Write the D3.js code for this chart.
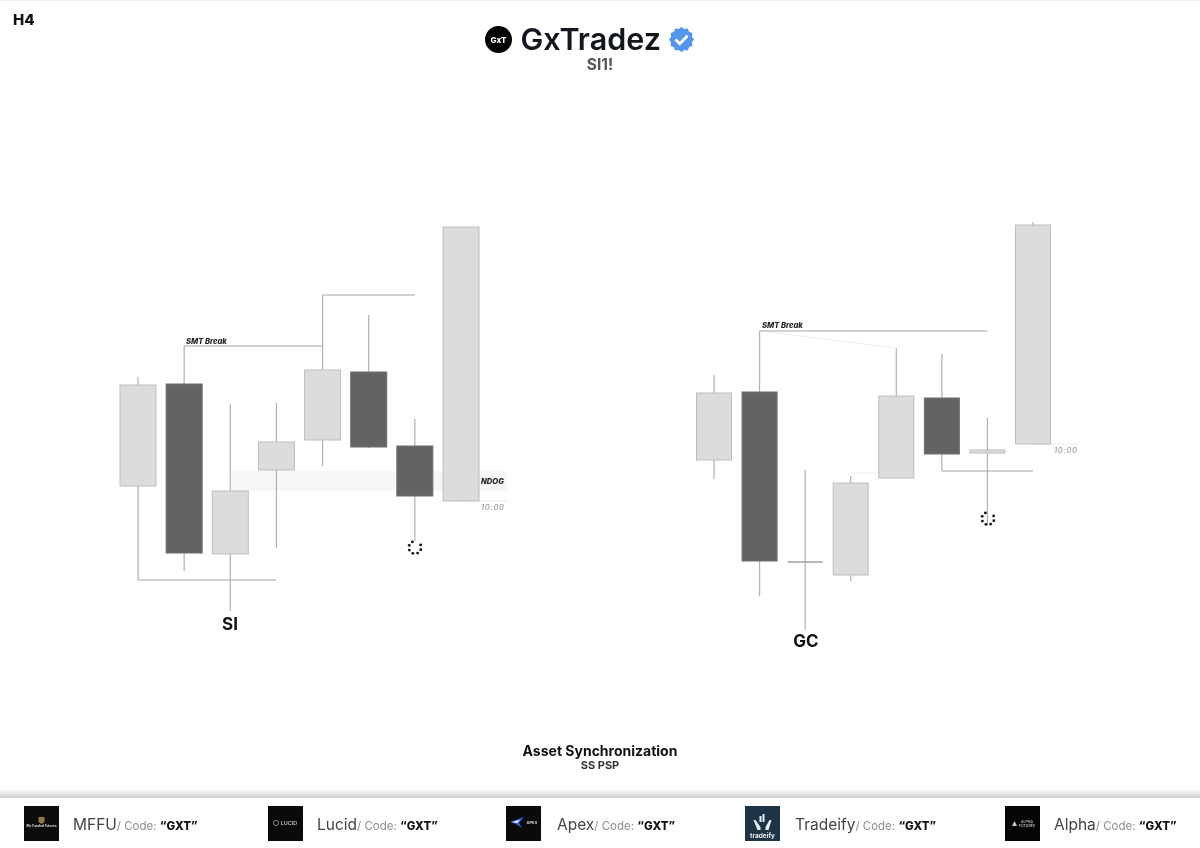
<!DOCTYPE html>
<html><head><meta charset="utf-8">
<script src="https://cdn.jsdelivr.net/npm/d3@7"></script>
<style>html,body{margin:0;padding:0;background:#fff}svg{display:block;font-family:Inter,sans-serif;filter:blur(0.3px)}</style>
</head><body><svg id="c" width="1200" height="848"></svg>
<script>
// Candle values, in chart price units, oldest to newest
const candleIndex = [0,1,2,3,4,5,6,7];
const siOpen  = [362,464,294,378,408,476,402,347];
const siHigh  = [471,502,444,445,553,533,429,621];
const siLow   = [268,277,237,300,382,400,307,347];
const siClose = [463,295,357,406,478,401,352,621];
const gcOpen  = [388,456,286,273,370,450,395,404];
const gcHigh  = [473,517,378,372,500,494,430,626];
const gcLow   = [369,252,218,267,370,377,322,404];
const gcClose = [455,287,286,365,452,394,398,623];
// Level lines: [from candle, to candle, price]
const siLevels = [[1,4,502],[4,6,553],[0,3,268],[7,8,347]];
const gcLevels = [[1,6,517],[5,7,377],[7,8,404]];
// Band and faint lines
const siBand = [2,8,357,377];
const gcFaint = [[1,517,4,500],[3,375,4,375]];
// Texts
const panelNames = ["SI","GC"];
const sponsors = ["MFFU","Lucid","Apex","Tradeify","Alpha"];
const sponsorCode = "“GXT”";

const svg = d3.select("#c");
const W = 1200, H = 848;
const y = d3.scaleLinear().domain([0,H]).range([H,0]);
const xSI = d3.scaleLinear().domain([0,7]).range([138,461]);
const xGC = d3.scaleLinear().domain([0,7]).range([714,1033]);
const wick = "#b0b0b0", lightFill = "#dcdcdc", lightEdge = "#bdbdbd", dark = "#636363";

const defs = svg.append("defs");
const g = defs.append("linearGradient").attr("id","shade").attr("x1",0).attr("x2",0).attr("y1",0).attr("y2",1);
g.append("stop").attr("offset",0).attr("stop-color","#fff");
g.append("stop").attr("offset",1).attr("stop-color","#cfcfcf");

svg.append("rect").attr("width",W).attr("height",H).attr("fill","#fff");
svg.append("rect").attr("width",W).attr("height",1).attr("fill","#efefef");

function text(s,x,yy,size,weight,fill,anchor,style){
  return svg.append("text").attr("x",x).attr("y",yy).attr("font-size",size).attr("font-weight",weight)
    .attr("fill",fill).attr("text-anchor",anchor||"start").attr("font-style",style||"normal").text(s);
}

function panel(x,open,high,low,close,bw){
  const root = svg.append("g");
  const rows = candleIndex.map(i=>({i,o:open[i],h:high[i],l:low[i],c:close[i]}));
  root.selectAll("line.w").data(rows).join("line").attr("class","w")
    .attr("x1",d=>x(d.i)).attr("x2",d=>x(d.i)).attr("y1",d=>y(d.h)).attr("y2",d=>y(d.l))
    .attr("stroke",wick).attr("stroke-width",1.2);
  root.selectAll("rect").data(rows.filter(d=>d.o!==d.c)).join("rect")
    .attr("x",d=>x(d.i)-bw/2).attr("width",bw)
    .attr("y",d=>y(Math.max(d.o,d.c))).attr("height",d=>Math.abs(d.o-d.c))
    .attr("fill",d=>d.c>d.o?lightFill:dark)
    .attr("stroke",d=>d.c>d.o?lightEdge:"#6e6e6e").attr("stroke-width",1);
  root.selectAll("line.d").data(rows.filter(d=>d.o===d.c)).join("line").attr("class","d")
    .attr("x1",d=>x(d.i)-bw/2).attr("x2",d=>x(d.i)+bw/2).attr("y1",d=>y(d.o)).attr("y2",d=>y(d.o))
    .attr("stroke","#a0a0a0").attr("stroke-width",1.3);
}
function levels(x,ls){
  ls.forEach(l=>{
    const faint = l[0]===7;
    svg.append("line").attr("x1",x(l[0])).attr("x2",x(l[1])).attr("y1",y(l[2])).attr("y2",y(l[2]))
      .attr("stroke",faint?"#ececec":"#a6a6a6").attr("stroke-width",1.1);
  });
}
function spinner(cx,cy){
  d3.range(8).filter(k=>k!==6).forEach(k=>{
    const a = k/8*2*Math.PI+0.35;
    svg.append("circle").attr("cx",cx+6.2*Math.cos(a)).attr("cy",cy+6.2*Math.sin(a)).attr("r",1.4).attr("fill","#111");
  });
}

svg.append("rect").attr("x",xSI(siBand[0])).attr("width",xSI(siBand[1])-xSI(siBand[0]))
  .attr("y",y(siBand[3])).attr("height",y(siBand[2])-y(siBand[3])).attr("fill","#f7f7f7");
gcFaint.forEach(f=>svg.append("line").attr("x1",xGC(f[0])).attr("y1",y(f[1])).attr("x2",xGC(f[2])).attr("y2",y(f[3]))
  .attr("stroke","#eeeeee").attr("stroke-width",1));
levels(xSI,siLevels); levels(xGC,gcLevels);
panel(xSI,siOpen,siHigh,siLow,siClose,36);
panel(xGC,gcOpen,gcHigh,gcLow,gcClose,35);

spinner(415,547.5); spinner(988,518.5);

text("SMT Break",186,343.5,7.6,800,"#222","start","italic");
text("SMT Break",762,328,7.6,800,"#222","start","italic");
text("NDOG",481,483.5,7.6,800,"#222","start","italic");
text("10:00",481,510,7.6,500,"#9c9c9c","start","italic").attr("letter-spacing",0.7);
text("10:00",1054,453,7.6,500,"#9c9c9c","start","italic").attr("letter-spacing",0.7);
text(panelNames[0],230,630,17,700,"#111","middle");
text(panelNames[1],806,647,17,700,"#111","middle");

// Header
text("H4",13,25,15,800,"#111");
svg.append("circle").attr("cx",498.5).attr("cy",39.5).attr("r",13.5).attr("fill","#000");
text("GxT",498.5,42.5,8,800,"#fff","middle");
text("GxTradez",520.5,50,30.5,600,"#14161f");
const n = 12, R = 12.5, r = 10.8;
const badgePts = d3.range(n*2).map(k=>{const a=k/(n*2)*2*Math.PI; const q=k%2?r:R; return [681.5+q*Math.cos(a),39.5+q*Math.sin(a)];});
svg.append("path").attr("d",d3.line().curve(d3.curveCardinalClosed.tension(0.3))(badgePts)).attr("fill","#5596ec");
svg.append("path").attr("d","M675.5 39.5l4.3 4.3l7.7-8").attr("fill","none").attr("stroke","#fff").attr("stroke-width",2.8);
text("SI1!",600,70,15.5,700,"#555","middle");

// Footer caption
text("Asset Synchronization",600,755.5,14,700,"#111","middle");
text("SS PSP",600,768.5,11,700,"#333","middle");

// Sponsor strip
svg.append("rect").attr("x",0).attr("y",789).attr("width",W).attr("height",9).attr("fill","url(#shade)");
const logoX = [24,268,506,745,1005];
const nameX = [73,317,557,795,1054];
const logoFill = ["#0c0c0c","#0a0a0a","#0a0a0a","#1d3446","#050505"];
sponsors.forEach((s,i)=>{
  svg.append("rect").attr("x",logoX[i]).attr("y",806).attr("width",35).attr("height",35).attr("fill",logoFill[i]);
  const t = text("",nameX[i],829.5,15.5,400,"#444");
  t.append("tspan").text(s);
  t.append("tspan").attr("font-size",11.5).attr("fill","#8c8c8c").text("/ Code: ");
  t.append("tspan").attr("font-size",11.5).attr("font-weight",800).attr("fill","#111").text(sponsorCode);
});
const mx = logoX[0]+17.5;
svg.append("path").attr("d",`M${mx-3} 817h6v5l-3 2l-3-2z`).attr("fill","#8a7a45");
text("My Funded Futures",mx,826.5,3.2,700,"#ddd","middle");
svg.append("circle").attr("cx",logoX[1]+8).attr("cy",823).attr("r",2.6).attr("fill","none").attr("stroke","#bbb").attr("stroke-width",.7);
text("LUCID",logoX[1]+21,825,5.4,500,"#ddd","middle");
svg.append("path").attr("d",`M${logoX[2]+4} 822l14-5l-5 6l3 5l-6-4z`).attr("fill","#3a62e0");
svg.append("path").attr("d",`M${logoX[2]+6} 822l8-2l-3 3z`).attr("fill","#fff");
text("APEX",logoX[2]+26,824,4,700,"#ccc","middle");
const tx = logoX[3]+17.5;
svg.append("path").attr("d",`M${tx-3} 822v-6h2v6zM${tx} 822v-8h2v8zM${tx-9} 820l2 0l5 7v3h-3zM${tx+9} 820l-2 0l-4 7v3h3z`).attr("fill","#e8edf0");
text("tradeify",tx,838,6.5,700,"#e8edf0","middle");
svg.append("path").attr("d",`M${logoX[4]+7} 826l2.5-5l2.5 5z`).attr("fill","#ccc");
text("ALPHA",logoX[4]+22,823,3.5,600,"#bbb","middle");
text("FUTURES",logoX[4]+22,827,3.5,600,"#bbb","middle");
</script></body></html>
